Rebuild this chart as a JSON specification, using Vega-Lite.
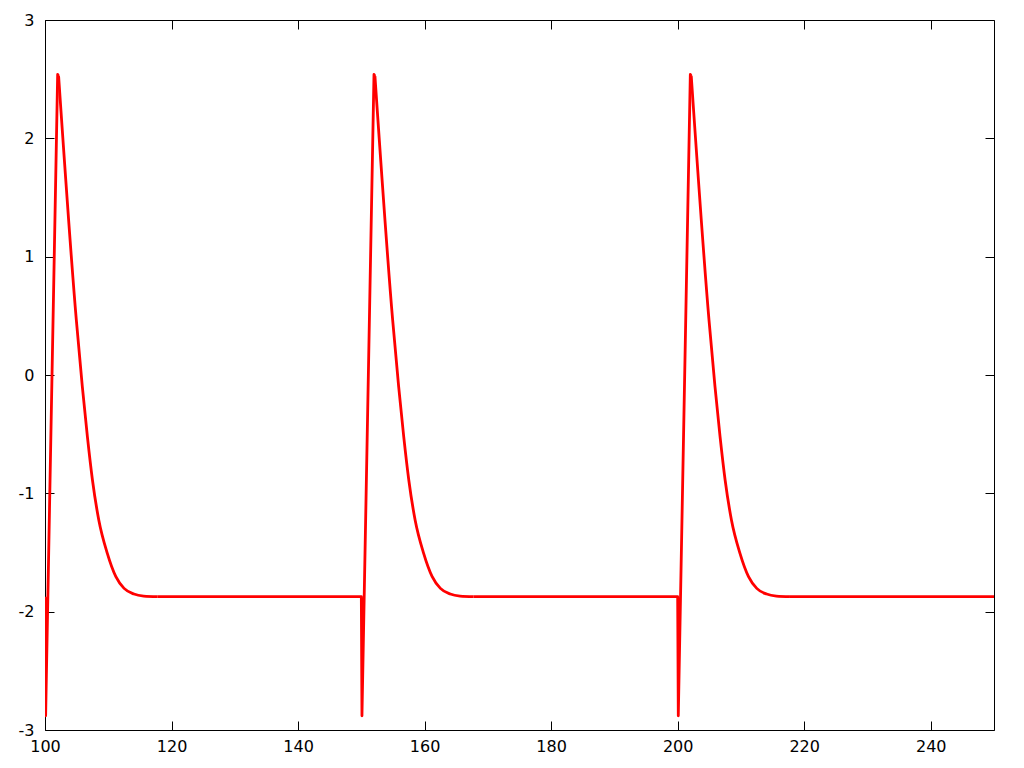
{
  "$schema": "https://vega.github.io/schema/vega-lite/v6.json",
  "width": 949,
  "height": 710,
  "autosize": {"type": "none"},
  "padding": {"left": 45, "top": 20, "right": 30, "bottom": 38},
  "background": "white",
  "config": {
    "view": {"stroke": null},
    "axis": {
      "domainColor": "black",
      "domainWidth": 1,
      "tickColor": "black",
      "tickWidth": 1,
      "tickSize": -9,
      "grid": false,
      "labelFont": "DejaVu Sans",
      "labelFontSize": 16,
      "labelColor": "black",
      "title": null
    }
  },
  "data": {
    "values": [
      {"seg": "s1", "kind": "spike", "t": 100, "v": -1.873},
      {"seg": "s1", "kind": "spike", "t": 100.1, "v": -2.88},
      {"seg": "s1", "kind": "spike", "t": 102.0, "v": 2.54},
      {"seg": "s1", "kind": "spike", "t": 102.15, "v": 2.525},
      {"seg": "d1", "kind": "decay", "t": 102.15, "v": 2.525},
      {"seg": "d1", "kind": "decay", "t": 104.95, "v": 0.465},
      {"seg": "d1", "kind": "decay", "t": 105.9, "v": -0.099},
      {"seg": "d1", "kind": "decay", "t": 106.7, "v": -0.521},
      {"seg": "d1", "kind": "decay", "t": 107.5, "v": -0.887},
      {"seg": "d1", "kind": "decay", "t": 108.5, "v": -1.225},
      {"seg": "d1", "kind": "decay", "t": 109.85, "v": -1.507},
      {"seg": "d1", "kind": "decay", "t": 111.2, "v": -1.704},
      {"seg": "d1", "kind": "decay", "t": 112.5, "v": -1.803},
      {"seg": "d1", "kind": "decay", "t": 114.06, "v": -1.851},
      {"seg": "d1", "kind": "decay", "t": 115.6, "v": -1.868},
      {"seg": "d1", "kind": "decay", "t": 117.75, "v": -1.873},
      {"seg": "s2", "kind": "spike", "t": 117.75, "v": -1.873},
      {"seg": "s2", "kind": "spike", "t": 150, "v": -1.873},
      {"seg": "s2", "kind": "spike", "t": 150.1, "v": -2.88},
      {"seg": "s2", "kind": "spike", "t": 152.0, "v": 2.54},
      {"seg": "s2", "kind": "spike", "t": 152.15, "v": 2.525},
      {"seg": "d2", "kind": "decay", "t": 152.15, "v": 2.525},
      {"seg": "d2", "kind": "decay", "t": 154.95, "v": 0.465},
      {"seg": "d2", "kind": "decay", "t": 155.9, "v": -0.099},
      {"seg": "d2", "kind": "decay", "t": 156.7, "v": -0.521},
      {"seg": "d2", "kind": "decay", "t": 157.5, "v": -0.887},
      {"seg": "d2", "kind": "decay", "t": 158.5, "v": -1.225},
      {"seg": "d2", "kind": "decay", "t": 159.85, "v": -1.507},
      {"seg": "d2", "kind": "decay", "t": 161.2, "v": -1.704},
      {"seg": "d2", "kind": "decay", "t": 162.5, "v": -1.803},
      {"seg": "d2", "kind": "decay", "t": 164.06, "v": -1.851},
      {"seg": "d2", "kind": "decay", "t": 165.6, "v": -1.868},
      {"seg": "d2", "kind": "decay", "t": 167.75, "v": -1.873},
      {"seg": "s3", "kind": "spike", "t": 167.75, "v": -1.873},
      {"seg": "s3", "kind": "spike", "t": 200, "v": -1.873},
      {"seg": "s3", "kind": "spike", "t": 200.1, "v": -2.88},
      {"seg": "s3", "kind": "spike", "t": 202.0, "v": 2.54},
      {"seg": "s3", "kind": "spike", "t": 202.15, "v": 2.525},
      {"seg": "d3", "kind": "decay", "t": 202.15, "v": 2.525},
      {"seg": "d3", "kind": "decay", "t": 204.95, "v": 0.465},
      {"seg": "d3", "kind": "decay", "t": 205.9, "v": -0.099},
      {"seg": "d3", "kind": "decay", "t": 206.7, "v": -0.521},
      {"seg": "d3", "kind": "decay", "t": 207.5, "v": -0.887},
      {"seg": "d3", "kind": "decay", "t": 208.5, "v": -1.225},
      {"seg": "d3", "kind": "decay", "t": 209.85, "v": -1.507},
      {"seg": "d3", "kind": "decay", "t": 211.2, "v": -1.704},
      {"seg": "d3", "kind": "decay", "t": 212.5, "v": -1.803},
      {"seg": "d3", "kind": "decay", "t": 214.06, "v": -1.851},
      {"seg": "d3", "kind": "decay", "t": 215.6, "v": -1.868},
      {"seg": "d3", "kind": "decay", "t": 217.75, "v": -1.873},
      {"seg": "s4", "kind": "spike", "t": 217.75, "v": -1.873},
      {"seg": "s4", "kind": "spike", "t": 250, "v": -1.873}
    ]
  },
  "layer": [
    {
      "transform": [{"filter": "datum.kind == 'spike'"}],
      "mark": {"type": "line", "color": "#ff0000", "strokeWidth": 2.8, "strokeJoin": "round", "clip": true},
      "encoding": {
        "detail": {"field": "seg", "type": "nominal"},
        "x": {"field": "t", "type": "quantitative", "scale": {"domain": [100, 250], "nice": false, "zero": false},
              "axis": {"orient": "bottom", "values": [100, 120, 140, 160, 180, 200, 220, 240], "labelPadding": 17, "labelFlush": false}},
        "y": {"field": "v", "type": "quantitative", "scale": {"domain": [-3, 3], "nice": false, "zero": false},
              "axis": {"orient": "left", "values": [-3, -2, -1, 0, 1, 2, 3], "labelPadding": 20,
                       "labelExpr": "datum.value < 0 ? '-' + abs(datum.value) : '' + datum.value"}}
      }
    },
    {
      "transform": [{"filter": "datum.kind == 'decay'"}],
      "mark": {"type": "line", "color": "#ff0000", "strokeWidth": 2.8, "strokeJoin": "round", "interpolate": "monotone", "clip": true},
      "encoding": {
        "detail": {"field": "seg", "type": "nominal"},
        "x": {"field": "t", "type": "quantitative", "axis": {"orient": "top", "values": [100, 120, 140, 160, 180, 200, 220, 240], "labels": false}},
        "y": {"field": "v", "type": "quantitative", "axis": {"orient": "right", "values": [-3, -2, -1, 0, 1, 2, 3], "labels": false}}
      }
    }
  ],
  "resolve": {"axis": {"x": "independent", "y": "independent"}}
}
